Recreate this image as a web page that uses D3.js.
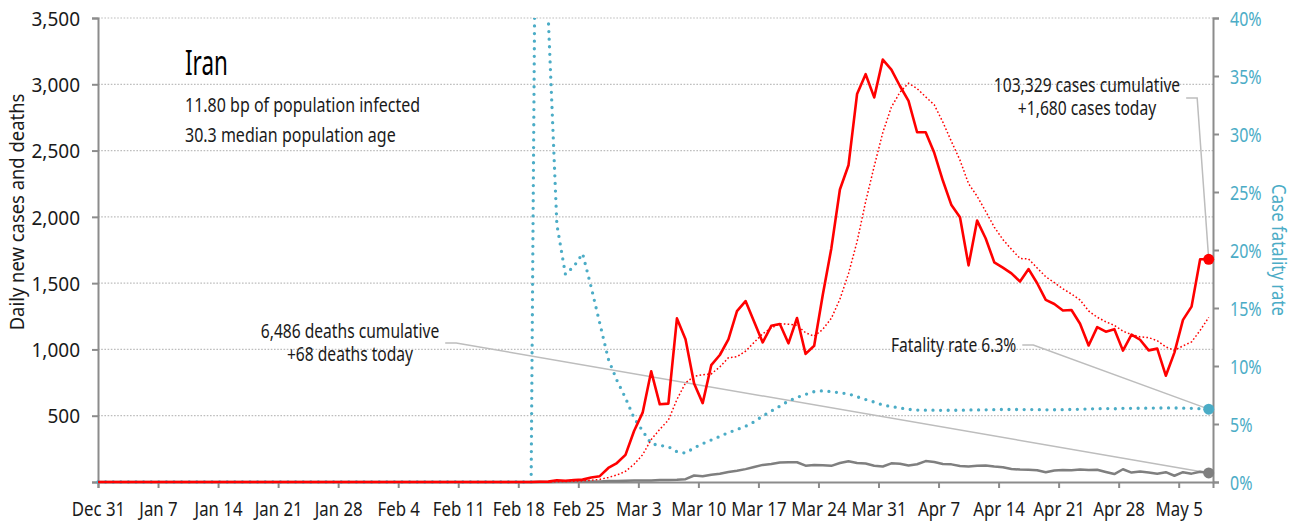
<!DOCTYPE html>
<html lang="en">
<head>
<meta charset="UTF-8">
<title>Iran</title>
<script src="https://cdnjs.cloudflare.com/ajax/libs/d3/7.8.5/d3.min.js"></script>
<style>
  body { margin: 0; background: #fff; }
  svg text { font-family: "Noto Sans", Roboto, sans-serif; }
</style>
</head>
<body>
<svg id="chart" width="1301" height="522"></svg>
<script>

// one value per day, first value is Feb 19 2020, last is May 8 2020
var firstDay = "2020-02-19";
var chartStart = "2019-12-31";

var cases = [0, 2, 3, 13, 10, 15, 18, 34, 44, 106, 143,
  205, 385, 523, 835, 586, 591, 1234, 1076, 743, 595, 881, 958, 1075, 1289, 1365, 1209,
  1053, 1178, 1192, 1046, 1237, 966, 1028, 1411, 1762, 2206, 2389, 2926, 3076, 2901, 3186,
  3110, 2987, 2875, 2638, 2638, 2483, 2274, 2089, 1997, 1634, 1972, 1837, 1657, 1617, 1574,
  1512, 1606, 1499, 1374, 1343, 1294, 1297, 1194, 1030, 1168, 1134, 1153, 991, 1112, 1073,
  993, 1006, 802, 976, 1223, 1323, 1680, 1680];

var deaths = [0, 2, 0, 2, 1, 3, 4, 4, 3, 7, 8,
  9, 11, 12, 11, 15, 15, 17, 21, 49, 43, 54, 63, 75, 85, 97, 113, 129, 135, 147, 149,
  149, 123, 129, 127, 122, 143, 157, 144, 139, 123, 117,
  141, 138, 124, 134, 158, 151, 136, 133, 121, 117, 122, 125, 117, 111, 98, 94, 92, 89, 73, 87,
  91, 88, 94, 90, 93, 76, 60, 96, 71, 80,
  71, 63, 74, 47, 74, 63, 78, 68];

// 7 day average of new cases (red dotted)
var avg7 = [0, 0.3, 0.7, 2.6, 4, 6.1, 8.7, 13.6, 19.6, 34.3, 52.9,
  80.7, 133.6, 205.7, 320.1, 397.6, 466.9, 622.7, 747.1, 798.3, 808.6, 815.1, 868.3, 937.4,
  945.3, 986.6, 1053.1, 1118.6, 1161, 1194.4, 1190.3, 1182.9, 1125.9, 1100, 1151.1, 1234.6,
  1379.4, 1571.3, 1812.6, 2114, 2381.6, 2635.1,
  2827.7, 2939.3, 3008.7, 2967.6, 2905, 2845.3, 2715, 2569.1, 2427.7, 2250.4, 2155.3, 2040.9,
  1922.9, 1829, 1755.4, 1686.1, 1682.1, 1614.6, 1548.4, 1503.6, 1457.4, 1417.9, 1372.4, 1290.1,
  1242.9, 1208.6, 1181.4, 1138.1, 1111.7, 1094.4,
  1089.1, 1066, 1018.6, 993.3, 1026.4, 1056.6, 1143.3, 1241.4];

// case fatality rate, percent
var fatality = [0, 100, 40, 22.2, 17.9, 18.6, 19.7, 16.8, 13.7, 10.6, 8.76,
  7.25, 5.52, 4.40, 3.30, 3.15, 3.05, 2.61, 2.49, 2.95, 3.31, 3.62, 3.93, 4.26, 4.52, 4.80,
  5.19, 5.69, 6.11, 6.54, 6.98, 7.29, 7.55, 7.79, 7.86, 7.79, 7.69, 7.60, 7.35, 7.11, 6.89, 6.64,
  6.50, 6.38, 6.26, 6.20, 6.19, 6.19, 6.18, 6.19, 6.18, 6.21, 6.21, 6.22, 6.24, 6.25, 6.25,
  6.25, 6.24, 6.24, 6.22, 6.23, 6.24, 6.25, 6.27, 6.30, 6.32, 6.33, 6.31, 6.35, 6.35, 6.36,
  6.37, 6.37, 6.39, 6.38, 6.37, 6.35, 6.32, 6.28];

var leftTicks = [0, 500, 1000, 1500, 2000, 2500, 3000, 3500];
var rightTicks = [0, 5, 10, 15, 20, 25, 30, 35, 40];
var xTickLabels = ["Dec 31", "Jan 7", "Jan 14", "Jan 21", "Jan 28", "Feb 4", "Feb 11", "Feb 18",
  "Feb 25", "Mar 3", "Mar 10", "Mar 17", "Mar 24", "Mar 31", "Apr 7", "Apr 14", "Apr 21",
  "Apr 28", "May 5"];

var titleText = "Iran";
var infoLines = ["11.80 bp of population infected", "30.3 median population age"];
var casesNote = ["103,329 cases cumulative", "+1,680 cases today"];
var deathsNote = ["6,486 deaths cumulative", "+68 deaths today"];
var fatalityNote = "Fatality rate 6.3%";

var red = "#ff0000", teal = "#4bacc6", grey = "#7f7f7f", axisCol = "#8c8c8c", ink = "#1a1a1a";

var parseDay = d3.timeParse("%Y-%m-%d");
var parseTick = d3.timeParse("%b %d %Y");
var start = parseDay(firstDay);

var svg = d3.select("#chart");
var mLeft = 98, mRight = 1213, mTop = 18, mBottom = 482;

// the reference font is a condensed one, so squeeze the glyphs horizontally
function squeeze(sel, k) {
  sel.each(function() {
    var len = this.getComputedTextLength();
    this.setAttribute("textLength", len * k);
    this.setAttribute("lengthAdjust", "spacingAndGlyphs");
  });
}

var x = d3.scaleTime()
  .domain([parseDay(chartStart), parseDay("2020-05-09")])
  .range([mLeft, mRight]);
var y = d3.scaleLinear().domain([0, 3500]).range([mBottom, mTop]);
var yR = d3.scaleLinear().domain([0, 40]).range([mBottom, mTop]);

// points sit in the middle of their day
function dayPos(i) { return d3.timeHour.offset(d3.timeDay.offset(start, i), 12); }

function series(values) {
  var pts = [{ date: parseDay(chartStart), v: 0 }];
  values.forEach(function(v, i) { pts.push({ date: dayPos(i), v: v }); });
  return pts;
}

var tickDates = xTickLabels.map(function(l) {
  return parseTick(l + (l.indexOf("Dec") === 0 ? " 2019" : " 2020"));
});

// gridlines
svg.append("g")
  .selectAll("line")
  .data(leftTicks.filter(function(d) { return d > 0; }))
  .enter().append("line")
  .attr("x1", mLeft).attr("x2", mRight)
  .attr("y1", function(d) { return y(d); })
  .attr("y2", function(d) { return y(d); })
  .attr("stroke", "#bdbdbd")
  .attr("stroke-width", 1.2)
  .attr("stroke-dasharray", "1.6,1.6");

// axes
var leftAxis = svg.append("g")
  .attr("transform", "translate(" + mLeft + ",0)")
  .call(d3.axisLeft(y).tickValues(leftTicks).tickSize(6).tickPadding(12)
    .tickFormat(function(d) { return d === 0 ? "" : d3.format(",")(d); }));

var rightAxis = svg.append("g")
  .attr("transform", "translate(" + mRight + ",0)")
  .call(d3.axisRight(yR).tickValues(rightTicks).tickSize(6).tickPadding(11)
    .tickFormat(function(d) { return d + "%"; }));

var bottomAxis = svg.append("g")
  .attr("transform", "translate(0," + mBottom + ")")
  .call(d3.axisBottom(x).tickValues(tickDates).tickSize(6).tickPadding(14)
    .tickFormat(function(d, i) { return xTickLabels[i]; }));

[leftAxis, rightAxis, bottomAxis].forEach(function(g) {
  g.attr("font-family", null).attr("font-size", null);
  g.select(".domain").attr("stroke", axisCol).attr("stroke-width", 2);
  g.selectAll(".tick line").attr("stroke", axisCol).attr("stroke-width", 2);
  g.selectAll(".tick text").attr("font-size", 20).attr("fill", ink);
});
rightAxis.selectAll(".tick text").attr("fill", teal);
leftAxis.selectAll(".tick text").attr("dy", "0.36em");
rightAxis.selectAll(".tick text").attr("dy", "0.36em");
bottomAxis.selectAll(".tick text").attr("dy", "0.71em");
squeeze(leftAxis.selectAll(".tick text"), 0.95);
squeeze(bottomAxis.selectAll(".tick text"), 0.84);
squeeze(rightAxis.selectAll(".tick text"), 0.8);

// axis titles
svg.append("text")
  .attr("class", "ltitle")
  .attr("transform", "translate(24,212) rotate(-90)")
  .attr("text-anchor", "middle")
  .attr("font-size", 20)
  .attr("fill", ink)
  .text("Daily new cases and deaths");
squeeze(svg.selectAll(".ltitle"), 0.92);

svg.append("text")
  .attr("class", "rtitle")
  .attr("transform", "translate(1272,250) rotate(90)")
  .attr("text-anchor", "middle")
  .attr("font-size", 20)
  .attr("fill", teal)
  .text("Case fatality rate");
squeeze(svg.selectAll(".rtitle"), 0.84);

// title block
svg.append("text").attr("class", "title").attr("x", 185).attr("y", 75)
  .attr("font-size", 35).attr("fill", "#000").text(titleText);
squeeze(svg.selectAll(".title"), 0.64);
svg.selectAll(".info").data(infoLines).enter().append("text")
  .attr("class", "info")
  .attr("x", 185)
  .attr("y", function(d, i) { return 112 + i * 30; })
  .attr("font-size", 20).attr("fill", ink)
  .text(function(d) { return d; });
squeeze(svg.selectAll(".info"), 0.8);

var lastIdx = cases.length - 1;
var lastX = x(dayPos(lastIdx));

// annotation notes with leader lines
function note(lines, cx, y0, anchor) {
  var g = svg.append("g");
  lines.forEach(function(t, i) {
    g.append("text").attr("x", cx).attr("y", y0 + i * 23)
      .attr("text-anchor", anchor).attr("font-size", 20).attr("fill", ink).text(t);
  });
  squeeze(g.selectAll("text"), 0.78);
  return g;
}
function leader(x0, yy, tx, ty) {
  svg.append("polyline")
    .attr("points", [[x0, yy], [x0 + 11, yy], [tx, ty]].map(function(p) { return p.join(","); }).join(" "))
    .attr("fill", "none")
    .attr("stroke", "#bdbdbd")
    .attr("stroke-width", 1.5);
}

var cNote = note(casesNote, 1087, 92, "middle");
var dNote = note(deathsNote, 350, 338, "middle");
var fNote = note([fatalityNote], 891, 352, "start");

function rightEdge(g) { var b = g.node().getBBox(); return b.x + b.width + 6; }
leader(rightEdge(cNote), 98, lastX, y(cases[lastIdx]));
leader(rightEdge(dNote), 343, lastX, y(deaths[lastIdx]));
leader(rightEdge(fNote), 345, lastX, yR(fatality[lastIdx]));

// clip for data lines
svg.append("clipPath").attr("id", "plot")
  .append("rect").attr("x", mLeft - 2).attr("y", mTop)
  .attr("width", mRight - mLeft + 4).attr("height", mBottom - mTop + 4);

var plot = svg.append("g").attr("clip-path", "url(#plot)");

var lineL = d3.line().x(function(d) { return x(d.date); }).y(function(d) { return y(d.v); });
var lineR = d3.line().x(function(d) { return x(d.date); }).y(function(d) { return yR(d.v); });

plot.append("path").datum(series(deaths))
  .attr("d", lineL).attr("fill", "none")
  .attr("stroke", grey).attr("stroke-width", 2.5).attr("stroke-linejoin", "round");

plot.append("path").datum(series(fatality))
  .attr("d", lineR).attr("fill", "none")
  .attr("stroke", teal).attr("stroke-width", 3.3)
  .attr("stroke-linecap", "round").attr("stroke-dasharray", "0,7.6");

plot.append("path").datum(series(avg7))
  .attr("d", lineL).attr("fill", "none")
  .attr("stroke", red).attr("stroke-width", 1.5).attr("stroke-dasharray", "1.6,2.2");

plot.append("path").datum(series(cases))
  .attr("d", lineL).attr("fill", "none")
  .attr("stroke", red).attr("stroke-width", 2.6).attr("stroke-linejoin", "round");

// end markers
svg.append("circle").attr("cx", lastX).attr("cy", y(deaths[lastIdx])).attr("r", 5.5).attr("fill", grey);
svg.append("circle").attr("cx", lastX).attr("cy", yR(fatality[lastIdx])).attr("r", 5.5).attr("fill", teal);
svg.append("circle").attr("cx", lastX).attr("cy", y(cases[lastIdx])).attr("r", 5.5).attr("fill", red);

</script>
</body>
</html>
